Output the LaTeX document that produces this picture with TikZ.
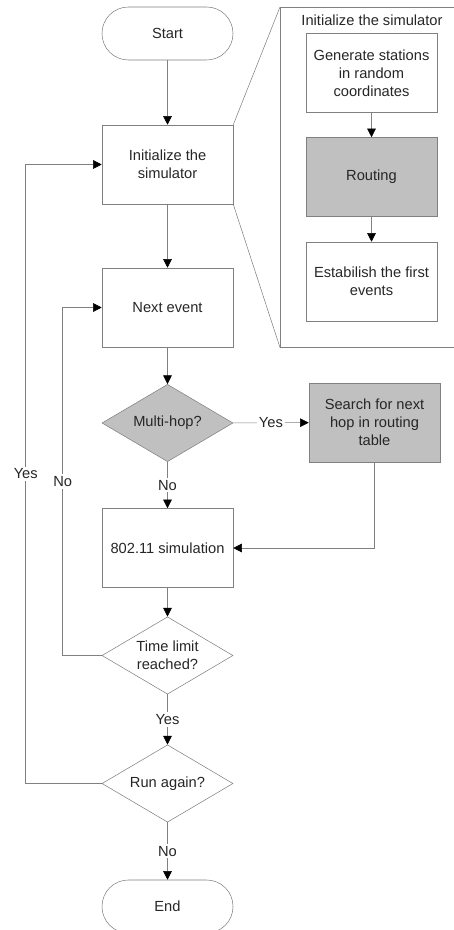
\documentclass[tikz,border=0pt]{standalone}
\usepackage{fontspec}
\setmainfont{Liberation Sans}
\usetikzlibrary{shapes.geometric, arrows.meta}
\definecolor{lineGray}{RGB}{128,128,128}
\definecolor{boxGray}{RGB}{192,192,192}

\begin{document}
\begin{tikzpicture}[x=0.75pt,y=0.75pt,yscale=-1,xscale=1,
    font=\fontsize{11}{13.5}\selectfont,
    every node/.style={align=center, text=black!85},
    proc/.style={draw=lineGray, rectangle, minimum width=98.25pt, minimum height=59.25pt, inner sep=0.75pt},
    term/.style={draw=lineGray, rectangle, rounded corners=19.8pt, minimum width=98.25pt, minimum height=39.75pt},
    decide/.style={draw=lineGray, diamond, aspect=1.7, minimum width=98.25pt, minimum height=58pt, inner sep=0pt},
    shaded/.style={fill=boxGray},
    link/.style={draw=lineGray, -{Triangle[black, width=6.5pt, length=6.5pt]}},
    lbl/.style={fill=white, inner sep=1.5pt}
  ]
    \useasboundingbox (0,0) rectangle (453,930);

    %Shape: Zoom panel
    \node [draw=lineGray, rectangle, anchor=north west, minimum width=135pt, minimum height=255pt, inner sep=0pt] (panel) at (280,7) {};
    % Text Node
    \node (paneltitle) at (372,20) {Initialize the simulator};

    %Shape: Main flow
    \node [term] (start) at (167.5,33.5) {Start};
    \node [proc] (init) at (167.5,164.5) {Initialize the\\simulator};
    \node [proc] (next) at (167.5,307.5) {Next event};
    \node [decide, shaded] (multihop) at (167.5,423) {Multi-hop?};
    \node [proc, shaded] (search) at (374.5,422.5) {Search for next\\hop in routing\\table};
    \node [proc] (sim) at (167.5,548) {802.11 simulation};
    \node [decide] (timelimit) at (167.5,655.5) {Time limit\\reached?};
    \node [decide] (again) at (167.5,783.5) {Run again?};
    \node [term] (end) at (167.5,906.5) {End};

    %Shape: Inside the panel
    \node [proc] (generate) at (371.5,73) {Generate stations\\in random\\coordinates};
    \node [proc, shaded] (routing) at (371.5,177) {Routing};
    \node [proc] (establish) at (371.5,281.5) {Estabilish the first\\events};

    %Straight Lines: zoom edges
    \draw [lineGray] (init.north east) -- (panel.north west);
    \draw [lineGray] (init.south east) -- (panel.south west);

    %Straight Lines: arrows
    \draw [link] (start) -- (init);
    \draw [link] (init) -- (next);
    \draw [link] (next) -- (multihop);
    \draw [link] (multihop) -- node [lbl] {Yes} (search);
    \draw [link] (multihop) -- node [lbl] {No} (sim);
    \draw [link] (search.south) |- (sim.east);
    \draw [link] (sim) -- (timelimit);
    \draw [link] (timelimit.west) -- ++(-39,0) |- node [lbl, pos=0.25] {No} (next.west);
    \draw [link] (timelimit) -- node [lbl] {Yes} (again);
    \draw [link] (again.west) -- ++(-76,0) |- node [lbl, pos=0.25] {Yes} (init.west);
    \draw [link] (again) -- node [lbl] {No} (end);
    \draw [link] (generate) -- (routing);
    \draw [link] (routing) -- (establish);

\end{tikzpicture}
\end{document}
